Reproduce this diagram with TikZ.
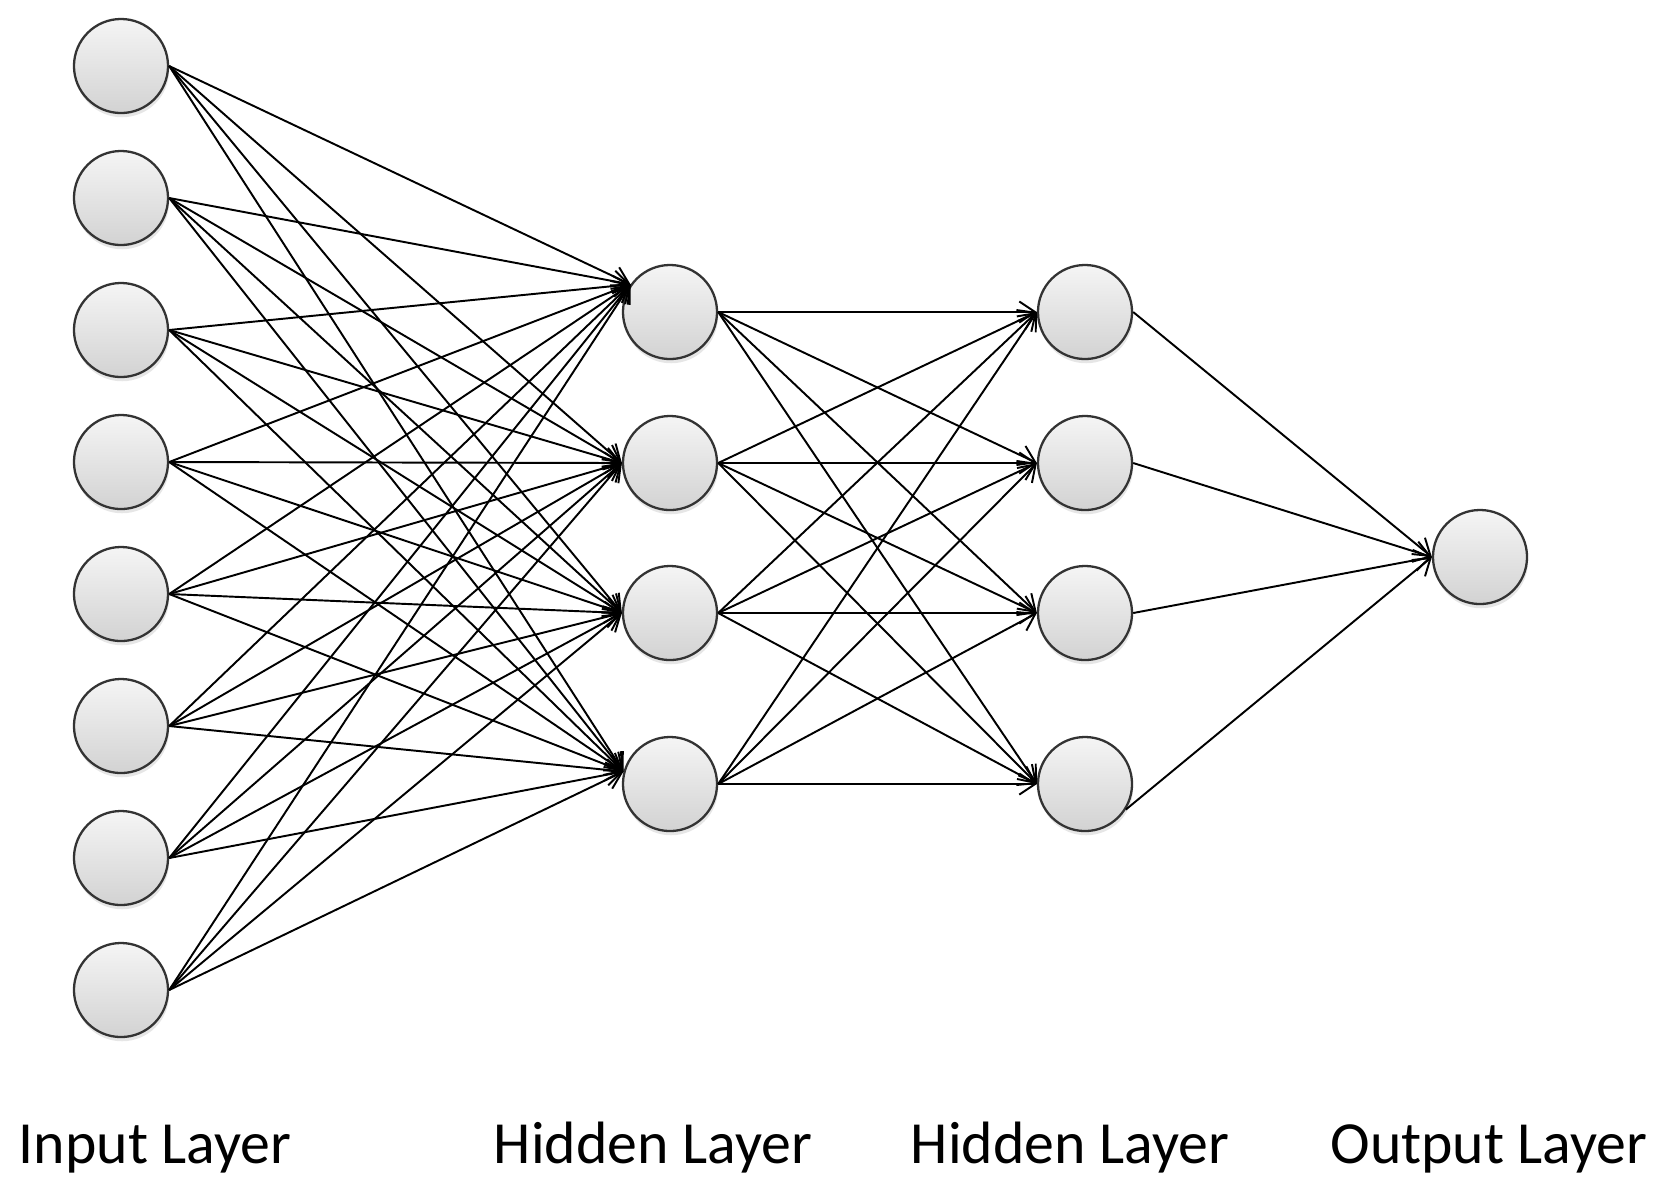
\documentclass[tikz,border=0pt]{standalone}
\usepackage{fontspec}
\setmainfont{Carlito}
\usetikzlibrary{arrows.meta, shadows}
\tikzset{neuron/.style = {circle, draw = black!80, line width = 0.65pt, minimum size = 0.94cm, inner sep = 0pt, top color = gray!8, bottom color = gray!35, drop shadow = {shadow xshift = 0.3pt, shadow yshift = -1.2pt, opacity = 0.2}}}
\tikzset{link/.style = {line width = 0.55pt, -{Straight Barb[length = 4.5pt, width = 6pt]}}}
\tikzset{layername/.style = {font = \fontsize{17}{20}\selectfont, anchor = base}}

\begin{document}
\begin{tikzpicture}[x = 0.01cm, y = -0.01cm]
\useasboundingbox (0,0) rectangle (1670,1199);
\foreach \i/\y in {1/66, 2/198, 3/330, 4/462, 5/594, 6/726, 7/858, 8/990}
  \node[neuron] (in\i) at (121,\y) {};
\foreach \j/\y in {1/312, 2/463, 3/613, 4/784}
  \node[neuron] (hida\j) at (670,\y) {};
\foreach \j/\y in {1/312, 2/463, 3/613, 4/784}
  \node[neuron] (hidb\j) at (1085,\y) {};
\node[neuron] (out) at (1480,557) {};
\foreach \i in {1,...,8}
  \foreach \j/\a in {1/145, 2/180, 3/180, 4/165}
    \draw[link] (in\i.east) -- (hida\j.\a);
\foreach \i in {1,...,4}
  \foreach \j in {1,...,4}
    \draw[link] (hida\i.east) -- (hidb\j.west);
\foreach \j/\a in {1/0, 2/0, 3/0, 4/-32}
  \draw[link] (hidb\j.\a) -- (out.west);
\node[layername] (lin) at (155,1163) {Input Layer};
\node[layername] (lhida) at (653,1163) {Hidden Layer};
\node[layername] (lhidb) at (1070,1163) {Hidden Layer};
\node[layername] (lout) at (1489,1163) {Output Layer};
\end{tikzpicture}
\end{document}
